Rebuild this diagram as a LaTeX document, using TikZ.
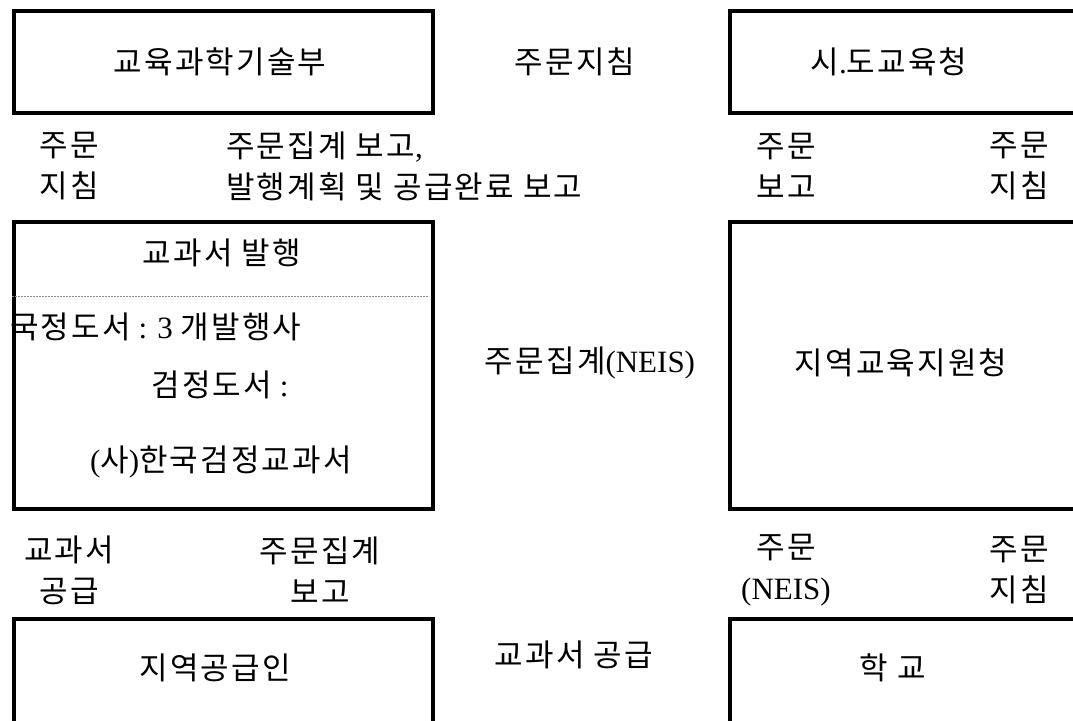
\documentclass[tikz,border=0pt]{standalone}
\usepackage{fontspec}
\setmainfont{Liberation Serif}
\newfontfamily\kr[LetterSpace=7]{Noto Sans CJK KR}
\begin{document}
\begin{tikzpicture}[x=1pt,y=-1pt,
  box/.style={draw=black,line width=4pt,rectangle,inner sep=0pt,anchor=north west},
  txt/.style={inner sep=0pt,font=\fontsize{31}{41}\selectfont,align=center},
  ltxt/.style={txt,align=left,anchor=west},
  sepline/.style={draw=black!45,line width=1pt,dash pattern=on 2pt off 1pt}]
\useasboundingbox (0,0) rectangle (1073,720);
\clip (0,0) rectangle (1073,720);
% top row
\node[box,minimum width=419.5pt,minimum height=102pt] (mest) at (11.5,9) {};
\node[txt] (mestT) at (220,62) {\kr 교육과학기술부};
\node[txt] (jumunjichim) at (575,62) {\kr 주문지침};
\node[box,minimum width=346pt,minimum height=102pt] (sido) at (728,9) {};
\node[txt] (sidoT) at (889,62) {{\kr 시}.{\kr 도교육청}};
% labels row 1
\node[txt] (l1a) at (69,166) {\kr 주문\\\kr 지침};
\node[ltxt] (l1b) at (226,166) {{\kr 주문집계 보고},\\{\kr 발행계획 및 공급완료 보고}};
\node[txt] (l1c) at (786,166) {\kr 주문\\\kr 보고};
\node[txt] (l1d) at (1019,166) {\kr 주문\\\kr 지침};
% middle row
\node[box,minimum width=419.5pt,minimum height=287pt] (pub) at (11.5,220) {};
\node[txt] (pubT) at (222,253) {\kr 교과서 발행};
\coordinate (s1) at (12,296);
\coordinate (s2) at (429,296);
\draw[sepline] (s1) -- (s2);
\node[ltxt] (pub1) at (10,327) {{\kr 국정도서} : 3 {\kr 개발행사}};
\node[txt] (pub2) at (220,385) {{\kr 검정도서} :};
\node[txt] (pub3) at (221,462) {({\kr 사}){\kr 한국검정교과서}};
\node[txt] (neis) at (590,363) {{\kr 주문집계}(NEIS)};
\node[box,minimum width=346pt,minimum height=287pt] (local) at (728,220) {};
\node[txt] (localT) at (901,363) {\kr 지역교육지원청};
% labels row 2
\node[txt] (l2a) at (69,570) {\kr 교과서\\\kr 공급};
\node[txt] (l2b) at (320,570) {\kr 주문집계\\\kr 보고};
\node[txt] (l2c) at (786,570) {{\kr 주문}\\(NEIS)};
\node[txt] (l2d) at (1019,570) {\kr 주문\\\kr 지침};
% bottom row
\node[box,minimum width=419.5pt,minimum height=110pt] (supp) at (11.5,617) {};
\node[txt] (suppT) at (215,668) {\kr 지역공급인};
\node[txt] (supply) at (574,655) {\kr 교과서 공급};
\node[box,minimum width=346pt,minimum height=110pt] (school) at (728,617) {};
\node[txt] (schoolT) at (893,668) {\kr 학 교};
\end{tikzpicture}
\end{document}
